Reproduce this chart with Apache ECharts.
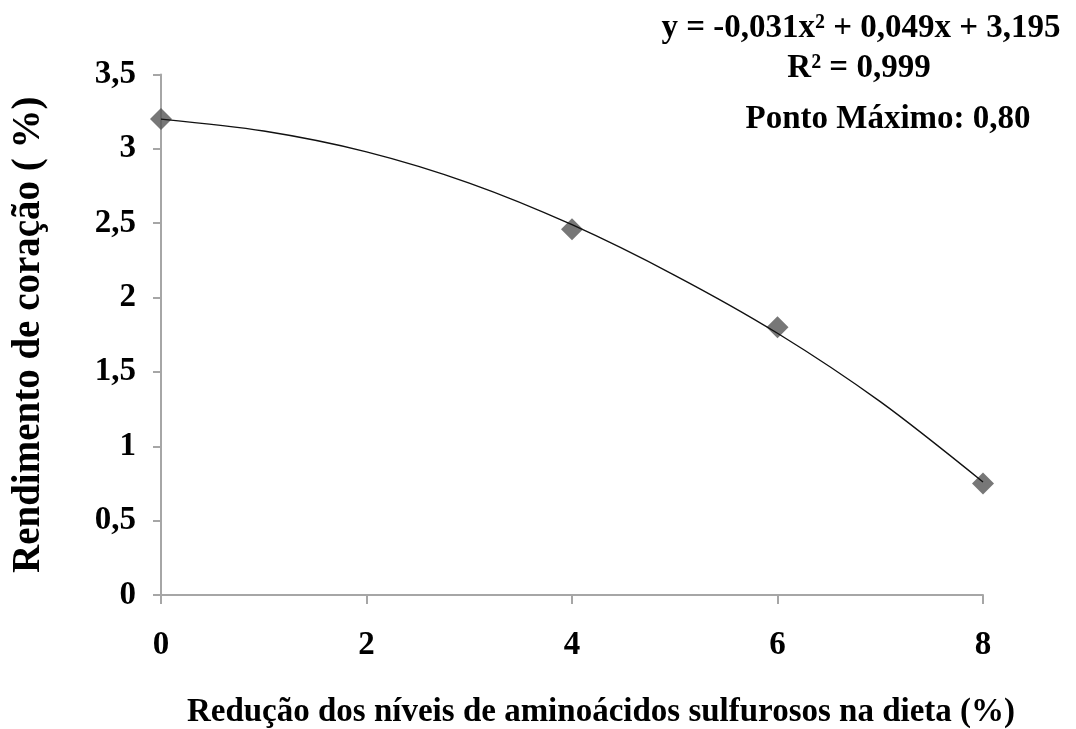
<!DOCTYPE html>
<html>
<head>
<meta charset="utf-8">
<script src="https://cdn.jsdelivr.net/npm/echarts@6/dist/echarts.min.js"></script>
<style>
  html, body { margin: 0; padding: 0; background: #ffffff; }
  #chart { width: 1076px; height: 729px; }
</style>
</head>
<body>
<div id="chart"></div>
<script>
// Observed heart yield at each level of sulfur amino acid reduction
var reducao = [0, 4, 6, 8];
var rendimento = [3.20, 2.46, 1.80, 0.75];

// Fitted quadratic trend, sampled along the x axis
var trendX = [0, 1, 2, 3, 4, 5, 6, 7, 8];
var trendY = [3.20, 3.12, 2.98, 2.77, 2.49, 2.15, 1.76, 1.30, 0.76];

// Axis ticks
var xTicks = [0, 2, 4, 6, 8];
var yTicks = [0, 0.5, 1, 1.5, 2, 2.5, 3, 3.5];

var equationLines = ['y = -0,031x² + 0,049x + 3,195', 'R² = 0,999', 'Ponto Máximo: 0,80'];

var serif = '"Liberation Serif", "Times New Roman", serif';
var axisGray = '#a6a6a6';

var chart = echarts.init(document.getElementById('chart'), null, { renderer: 'canvas' });

function noteText(str, cx, cy) {
  return {
    type: 'text',
    style: {
      x: cx, y: cy, text: str, textAlign: 'center', textVerticalAlign: 'middle',
      fontFamily: serif, fontWeight: 'bold', fontSize: 33, fill: '#000'
    }
  };
}

var option = {
  backgroundColor: '#ffffff',
  animation: false,
  grid: {
    left: 161, right: 93, top: 74.5, bottom: 134,
    containLabel: false, outerBoundsMode: 'none'
  },
  xAxis: {
    type: 'value',
    min: xTicks[0],
    max: xTicks[xTicks.length - 1],
    interval: xTicks[1] - xTicks[0],
    name: 'Redução dos níveis de aminoácidos sulfurosos na dieta (%)',
    nameLocation: 'middle',
    nameGap: 101,
    nameTextStyle: {
      fontFamily: serif, fontWeight: 'bold', fontSize: 33, color: '#000',
      padding: [0, 0, 0, 58]
    },
    axisLine: { show: true, onZero: false, lineStyle: { color: axisGray, width: 2 } },
    axisTick: { show: true, inside: false, length: 9, lineStyle: { color: axisGray, width: 2 } },
    axisLabel: { margin: 34, fontFamily: serif, fontWeight: 'bold', fontSize: 33, color: '#000' },
    splitLine: { show: false }
  },
  yAxis: {
    type: 'value',
    min: yTicks[0],
    max: yTicks[yTicks.length - 1],
    interval: yTicks[1] - yTicks[0],
    name: 'Rendimento de coração ( %)',
    nameLocation: 'middle',
    nameGap: 113,
    nameRotate: 90,
    nameTextStyle: { fontFamily: serif, fontWeight: 'bold', fontSize: 39, color: '#000' },
    axisLine: { show: true, onZero: false, lineStyle: { color: axisGray, width: 2 } },
    axisTick: { show: true, inside: false, length: 8, lineStyle: { color: axisGray, width: 2 } },
    axisLabel: {
      margin: 25,
      fontFamily: serif, fontWeight: 'bold', fontSize: 33, color: '#000',
      formatter: function (v) { return String(v).replace('.', ','); }
    },
    splitLine: { show: false }
  },
  series: [
    {
      type: 'line',
      data: trendX.map(function (x, i) { return [x, trendY[i]]; }),
      smooth: 0.3,
      showSymbol: false,
      lineStyle: { color: '#111111', width: 1.4 },
      z: 3
    },
    {
      type: 'scatter',
      data: reducao.map(function (x, i) { return [x, rendimento[i]]; }),
      symbol: 'diamond',
      symbolSize: [22, 22],
      itemStyle: { color: '#555555' },
      z: 2
    }
  ],
  graphic: [
    noteText(equationLines[0], 861, 28),
    noteText(equationLines[1], 859, 68),
    noteText(equationLines[2], 888, 119)
  ]
};

chart.setOption(option);
</script>
</body>
</html>
